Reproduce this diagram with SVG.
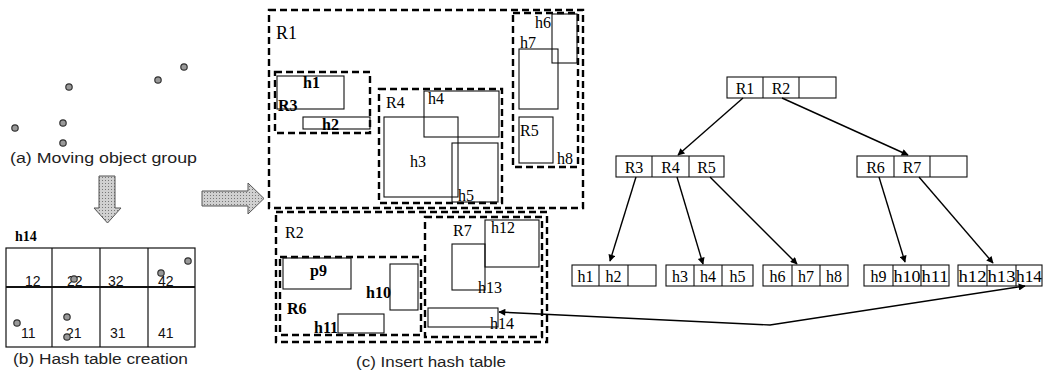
<svg xmlns="http://www.w3.org/2000/svg" width="1050" height="374" viewBox="0 0 1050 374">
<defs>
<style>
.bg{fill:#fff}
.cap{font-family:"Liberation Sans","DejaVu Sans",sans-serif;font-size:14px;fill:#222}
.num{font-family:"Liberation Sans","DejaVu Sans",sans-serif;font-size:14px;fill:#111}
.ser{font-family:"Liberation Serif","Times New Roman",serif;font-size:16px;fill:#000}
.b{font-weight:bold}
.dash{fill:none;stroke:#000;stroke-width:2.4;stroke-dasharray:7 4}
.box{fill:none;stroke:#111;stroke-width:1.1}
.cell{fill:#fff;stroke:#111;stroke-width:1.1}
.dot{fill:#999;stroke:#333;stroke-width:1.2}
.grid{fill:none;stroke:#111;stroke-width:1.2}
.edge{fill:none;stroke:#000;stroke-width:1.4}
.garrow{fill:#b8b8b8;stroke:#555;stroke-width:1}
</style>
<marker id="ah" viewBox="0 0 10 10" refX="9" refY="5" markerWidth="10" markerHeight="7" markerUnits="userSpaceOnUse" orient="auto-start-reverse">
<path d="M0,0 L10,5 L0,10 z" fill="#000"/>
</marker>
<pattern id="hatch" width="3" height="3" patternUnits="userSpaceOnUse">
<rect width="3" height="3" fill="#d0d0d0"/>
<rect width="1" height="1" fill="#777"/>
</pattern>
</defs>
<rect class="bg" width="1050" height="374"/>

<!-- (a) moving objects -->
<g id="moving-objects">
<circle class="dot" cx="15" cy="128" r="3.2"/>
<circle class="dot" cx="69" cy="87" r="3.2"/>
<circle class="dot" cx="63" cy="123" r="3.2"/>
<circle class="dot" cx="63" cy="143" r="3.2"/>
<circle class="dot" cx="158" cy="80" r="3.2"/>
<circle class="dot" cx="184" cy="67" r="3.2"/>
<text class="cap" x="10" y="163" textLength="187" lengthAdjust="spacingAndGlyphs">(a) Moving object group</text>
</g>

<!-- gray block arrows -->
<g id="block-arrows">
<path class="garrow" style="fill:url(#hatch)" d="M99,176 H115 V208 H121 L107.5,223 L94,208 H99 Z"/>
<path class="garrow" style="fill:url(#hatch)" d="M202,191 H248 V183 L264,198.5 L248,214 V206 H202 Z"/>
</g>

<!-- (b) hash table -->
<g id="hash-table">
<text class="ser b" x="15" y="241" style="font-size:14px">h14</text>
<rect class="grid" x="6" y="248" width="189" height="99"/>
<line class="grid" x1="6" y1="287" x2="195" y2="287" style="stroke-width:2"/>
<line class="grid" x1="52" y1="248" x2="52" y2="347"/>
<line class="grid" x1="100" y1="248" x2="100" y2="347"/>
<line class="grid" x1="148" y1="248" x2="148" y2="347"/>
<text class="num" x="25" y="286">12</text>
<text class="num" x="67" y="286">22</text>
<text class="num" x="108" y="286">32</text>
<text class="num" x="158" y="286">42</text>
<text class="num" x="21" y="338">11</text>
<text class="num" x="66" y="338">21</text>
<text class="num" x="110" y="338">31</text>
<text class="num" x="158" y="338">41</text>
<circle class="dot" cx="74" cy="279" r="3.2"/>
<circle class="dot" cx="188" cy="261" r="3.2"/>
<circle class="dot" cx="161" cy="273" r="3.2"/>
<circle class="dot" cx="17" cy="323" r="3.2"/>
<circle class="dot" cx="67" cy="317" r="3.2"/>
<circle class="dot" cx="67" cy="337" r="3.2"/>
<text class="cap" x="13" y="364" textLength="175" lengthAdjust="spacingAndGlyphs">(b) Hash table creation</text>
</g>

<!-- (c) insert hash table -->
<g id="R1-region">
<rect class="dash" x="269" y="10" width="314" height="198"/>
<text class="ser" x="276" y="39" style="font-size:18px">R1</text>
</g>
<g id="R3-region">
<rect class="dash" x="275" y="72" width="95" height="61"/>
<text class="ser b" x="278" y="111">R3</text>
</g>
<g id="h1-rect">
<rect class="box" x="277" y="76" width="67" height="33"/>
<text class="ser b" x="303" y="88">h1</text>
</g>
<g id="h2-rect">
<rect class="box" x="303" y="117" width="67" height="12"/>
<text class="ser b" x="322" y="130">h2</text>
</g>
<g id="R4-region">
<rect class="dash" x="379" y="89" width="123" height="114"/>
<text class="ser" x="386" y="108">R4</text>
</g>
<g id="h3-rect">
<rect class="box" x="384" y="117" width="74" height="80"/>
<text class="ser" x="410" y="167">h3</text>
</g>
<g id="h4-rect">
<rect class="box" x="424" y="91" width="75" height="46"/>
<text class="ser" x="428" y="104">h4</text>
</g>
<g id="h5-rect">
<rect class="box" x="452" y="143" width="46" height="59"/>
<text class="ser" x="458" y="201">h5</text>
</g>
<g id="R5-region">
<rect class="dash" x="513" y="13" width="65" height="154"/>
</g>
<g id="h6-rect">
<rect class="box" x="552" y="14" width="25" height="49"/>
<text class="ser" x="535" y="28">h6</text>
</g>
<g id="h7-rect">
<rect class="box" x="519" y="49" width="39" height="60"/>
<text class="ser" x="520" y="48">h7</text>
</g>
<g id="R5-rect">
<rect class="box" x="519" y="117" width="34" height="46"/>
<text class="ser" x="520" y="136">R5</text>
<text class="ser" x="557" y="164">h8</text>
</g>

<g id="R2-region">
<rect class="dash" x="276" y="212" width="271" height="130"/>
<text class="ser" x="285" y="238">R2</text>
</g>
<g id="R6-region">
<rect class="dash" x="280" y="257" width="141" height="78"/>
<text class="ser b" x="287" y="314">R6</text>
</g>
<g id="p9-rect">
<rect class="box" x="283" y="258" width="68" height="31"/>
<text class="ser b" x="310" y="276">p9</text>
</g>
<g id="h10-rect">
<rect class="box" x="390" y="264" width="28" height="46"/>
<text class="ser b" x="366" y="298">h10</text>
</g>
<g id="h11-rect">
<rect class="box" x="338" y="314" width="46" height="19"/>
<text class="ser b" x="314" y="333">h11</text>
</g>
<g id="R7-region">
<rect class="dash" x="425" y="217" width="117" height="120"/>
<text class="ser" x="453" y="236">R7</text>
</g>
<g id="h12-rect">
<rect class="box" x="485" y="220" width="54" height="47"/>
<text class="ser" x="491" y="233">h12</text>
</g>
<g id="h13-rect">
<rect class="box" x="452" y="244" width="33" height="46"/>
<text class="ser" x="478" y="293">h13</text>
</g>
<g id="h14-rect">
<rect class="box" x="428" y="308" width="70" height="19"/>
<text class="ser" x="490" y="329">h14</text>
</g>
<text class="cap" x="356" y="367" textLength="150" lengthAdjust="spacingAndGlyphs">(c) Insert hash table</text>

<!-- tree nodes -->
<g id="node-root">
<rect class="cell" x="727" y="77" width="109" height="21"/>
<line class="box" x1="763" y1="77" x2="763" y2="98"/>
<line class="box" x1="799" y1="77" x2="799" y2="98"/>
<text class="ser" x="745" y="94" text-anchor="middle">R1</text>
<text class="ser" x="781" y="94" text-anchor="middle">R2</text>
</g>
<g id="node-R3R4R5">
<rect class="cell" x="616" y="156" width="108" height="21"/>
<line class="box" x1="652" y1="156" x2="652" y2="177"/>
<line class="box" x1="689" y1="156" x2="689" y2="177"/>
<text class="ser" x="634" y="173" text-anchor="middle">R3</text>
<text class="ser" x="670.5" y="173" text-anchor="middle">R4</text>
<text class="ser" x="706.5" y="173" text-anchor="middle">R5</text>
</g>
<g id="node-R6R7">
<rect class="cell" x="857" y="156" width="110" height="21"/>
<line class="box" x1="894" y1="156" x2="894" y2="177"/>
<line class="box" x1="930" y1="156" x2="930" y2="177"/>
<text class="ser" x="875.5" y="173" text-anchor="middle">R6</text>
<text class="ser" x="912" y="173" text-anchor="middle">R7</text>
</g>
<g id="leaf-h1h2">
<rect class="cell" x="572" y="265" width="84" height="21"/>
<line class="box" x1="599" y1="265" x2="599" y2="286"/>
<line class="box" x1="628" y1="265" x2="628" y2="286"/>
<text class="ser" x="585.5" y="282" text-anchor="middle">h1</text>
<text class="ser" x="613.5" y="282" text-anchor="middle">h2</text>
</g>
<g id="leaf-h3h4h5">
<rect class="cell" x="666" y="265" width="87" height="21"/>
<line class="box" x1="694" y1="265" x2="694" y2="286"/>
<line class="box" x1="722" y1="265" x2="722" y2="286"/>
<text class="ser" x="680" y="282" text-anchor="middle">h3</text>
<text class="ser" x="708" y="282" text-anchor="middle">h4</text>
<text class="ser" x="737.5" y="282" text-anchor="middle">h5</text>
</g>
<g id="leaf-h6h7h8">
<rect class="cell" x="763" y="265" width="85" height="21"/>
<line class="box" x1="792" y1="265" x2="792" y2="286"/>
<line class="box" x1="820" y1="265" x2="820" y2="286"/>
<text class="ser" x="777.5" y="282" text-anchor="middle">h6</text>
<text class="ser" x="806" y="282" text-anchor="middle">h7</text>
<text class="ser" x="834" y="282" text-anchor="middle">h8</text>
</g>
<g id="leaf-h9h10h11">
<rect class="cell" x="864" y="265" width="85" height="21"/>
<line class="box" x1="893" y1="265" x2="893" y2="286"/>
<line class="box" x1="921" y1="265" x2="921" y2="286"/>
<text class="ser" x="878.5" y="282" text-anchor="middle">h9</text>
<text class="ser" x="907" y="282" text-anchor="middle" textLength="27" lengthAdjust="spacingAndGlyphs">h10</text>
<text class="ser" x="935" y="282" text-anchor="middle" textLength="27" lengthAdjust="spacingAndGlyphs">h11</text>
</g>
<g id="leaf-h12h13h14">
<rect class="cell" x="958" y="265" width="84" height="21"/>
<line class="box" x1="987" y1="265" x2="987" y2="286"/>
<line class="box" x1="1016" y1="265" x2="1016" y2="286"/>
<text class="ser" x="972.5" y="282" text-anchor="middle" textLength="28" lengthAdjust="spacingAndGlyphs">h12</text>
<text class="ser" x="1001.5" y="282" text-anchor="middle" textLength="28" lengthAdjust="spacingAndGlyphs">h13</text>
<text class="ser" x="1029" y="282" text-anchor="middle" textLength="26" lengthAdjust="spacingAndGlyphs">h14</text>
</g>

<!-- connectors -->
<g id="connectors">
<line class="edge" x1="743" y1="98" x2="678" y2="155" marker-end="url(#ah)"/>
<line class="edge" x1="782" y1="98" x2="908" y2="155" marker-end="url(#ah)"/>
<line class="edge" x1="636" y1="177" x2="610" y2="261" marker-end="url(#ah)"/>
<line class="edge" x1="677" y1="177" x2="703" y2="264" marker-end="url(#ah)"/>
<line class="edge" x1="710" y1="177" x2="797" y2="264" marker-end="url(#ah)"/>
<line class="edge" x1="879" y1="177" x2="905" y2="262" marker-end="url(#ah)"/>
<line class="edge" x1="919" y1="177" x2="993" y2="263" marker-end="url(#ah)"/>
<polyline class="edge" points="499,312 770,325 1025,286" marker-start="url(#ah)" marker-end="url(#ah)"/>
</g>
</svg>
